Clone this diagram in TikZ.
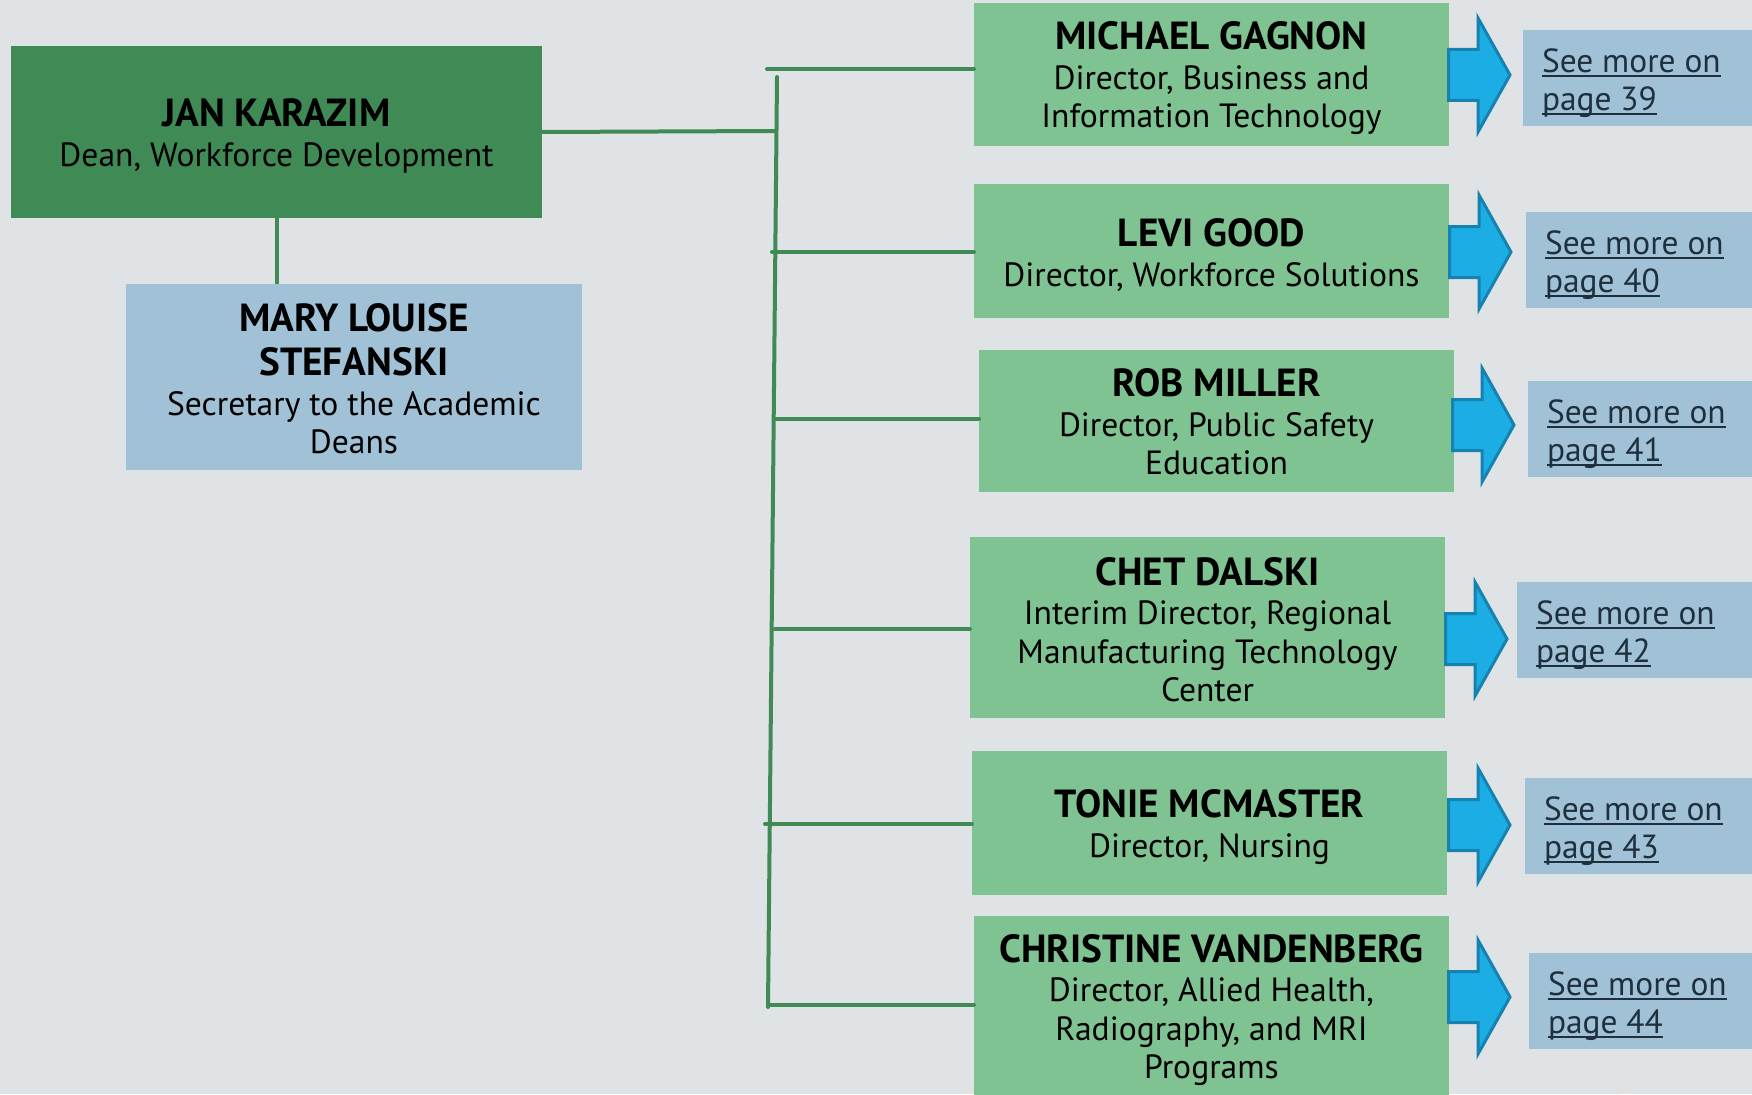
\documentclass[tikz,border=0pt]{standalone}
\usepackage{fontspec}
\setmainfont{PT Sans}
\newsavebox{\ulbox}
\newcommand{\myul}[1]{\sbox{\ulbox}{#1}\rlap{\rule[-4.5pt]{\wd\ulbox}{1.8pt}}\usebox{\ulbox}}
\definecolor{bgc}{RGB}{223,227,230}
\definecolor{dkgreen}{RGB}{63,138,85}
\definecolor{ltgreen}{RGB}{127,195,146}
\definecolor{ltblue}{RGB}{161,193,214}
\definecolor{arrfill}{RGB}{28,173,228}
\definecolor{arrdraw}{RGB}{21,130,175}
\definecolor{linktext}{RGB}{30,48,62}
\newcommand{\pname}[1]{{\fontsize{39.2}{40}\selectfont\bfseries #1}}
\begin{document}
\begin{tikzpicture}[x=1pt,y=-1pt,
  every node/.style={inner sep=0pt, outer sep=0pt},
  deanbox/.style={fill=dkgreen, anchor=north west, minimum width=531pt, minimum height=172pt},
  secbox/.style={fill=ltblue, anchor=north west, minimum width=456pt, minimum height=186pt},
  dirbox/.style={fill=ltgreen, anchor=north west, minimum width=475pt},
  boxtext/.style={align=center, yshift=-4pt, font=\fontsize{33.6}{38.5}\selectfont},
  pagebox/.style={fill=ltblue, anchor=north west, minimum width=260pt, minimum height=96pt},
  pagetext/.style={anchor=west, xshift=19pt, align=left, text=linktext, font=\fontsize{33.4}{38.5}\selectfont},
  conn/.style={draw=dkgreen, line width=4pt, line cap=round},
  arrowstyle/.style={fill=arrfill, draw=arrdraw, line width=3pt, line join=miter},
  barrow/.pic={\draw[arrowstyle] (1.5,-25.5) -- (31,-25.5) -- (31,-57) -- (63,0) -- (31,57) -- (31,25.5) -- (1.5,25.5) -- cycle;}
]
\useasboundingbox (0,0) rectangle (1752,1094);
\fill[bgc] (0,0) rectangle (1752,1094);
\draw[black!12, line width=1.5pt] (1683,1050) -- (1617,1094);

% dean and secretary
\node[deanbox] (jan) at (11,46) {};
\node[secbox] (mary) at (126,284) {};
\node[boxtext] (jant) at (jan.center) {\pname{JAN KARAZIM}\\[1pt]Dean, Workforce Development};
\node[boxtext, yshift=2.5pt] (maryt) at (mary.center) {\pname{MARY LOUISE}\\[6pt]\pname{STEFANSKI}\\[1pt]Secretary to the Academic\\Deans};
\draw[conn, line cap=butt] (jan.south) -- (jan.south |- mary.north);

% directors
\node[dirbox, minimum height=143pt] (m1) at (974,3) {};
\node[dirbox, minimum height=134pt] (m2) at (974,184) {};
\node[dirbox, minimum height=142pt] (m3) at (979,350) {};
\node[dirbox, minimum height=181pt] (m4) at (970,537) {};
\node[dirbox, minimum height=144pt] (m5) at (972,751) {};
\node[dirbox, minimum height=180pt] (m6) at (974,916) {};
\node[boxtext] (m1t) at (m1.center) {\pname{MICHAEL GAGNON}\\[1pt]Director, Business and\\Information Technology};
\node[boxtext] (m2t) at (m2.center) {\pname{LEVI GOOD}\\[1pt]Director, Workforce Solutions};
\node[boxtext, yshift=3pt] (m3t) at (m3.center) {\pname{ROB MILLER}\\[1pt]Director, Public Safety\\Education};
\node[boxtext, yshift=2pt] (m4t) at (m4.center) {\pname{CHET DALSKI}\\[1pt]Interim Director, Regional\\Manufacturing Technology\\Center};
\node[boxtext] (m5t) at (m5.center) {\pname{TONIE MCMASTER}\\[1pt]Director, Nursing};
\node[boxtext] (m6t) at (m6.center) {\pname{CHRISTINE VANDENBERG}\\[1pt]Director, Allied Health,\\Radiography, and MRI\\Programs};

% connectors
\coordinate (jt) at (775,131);
\coordinate (ttop) at (777,77);
\coordinate (tbot) at (768,1007);
\draw[conn] (jan.east) -- (jt);
\draw[conn] (ttop) -- (tbot);
\coordinate (b1) at (767,69);
\coordinate (b2) at (772,252);
\coordinate (b3) at (775,419);
\coordinate (b4) at (775,629);
\coordinate (b5) at (765,824);
\coordinate (b6) at (768,1005);
\draw[conn] (b1) -- (b1 -| m1.west);
\draw[conn] (b2) -- (b2 -| m2.west);
\draw[conn] (b3) -- (b3 -| m3.west);
\draw[conn] (b4) -- (b4 -| m4.west);
\draw[conn] (b5) -- (b5 -| m5.west);
\draw[conn] (b6) -- (b6 -| m6.west);

% arrows
\pic at (1447,75) {barrow};
\pic at (1448,252) {barrow};
\pic at (1451,425) {barrow};
\pic at (1444,639) {barrow};
\pic at (1447,825) {barrow};
\pic at (1447,997) {barrow};

% page boxes
\node[pagebox] (p1) at (1523,30) {};
\node[pagebox] (p2) at (1526,212) {};
\node[pagebox] (p3) at (1528,381) {};
\node[pagebox] (p4) at (1517,582) {};
\node[pagebox] (p5) at (1525,778) {};
\node[pagebox] (p6) at (1529,953) {};
\node[pagetext, yshift=-5pt] (t1) at (p1.west) {\myul{See more on}\\\myul{page 39}};
\node[pagetext, yshift=-5pt] (t2) at (p2.west) {\myul{See more on}\\\myul{page 40}};
\node[pagetext, yshift=-5pt] (t3) at (p3.west) {\myul{See more on}\\\myul{page 41}};
\node[pagetext, yshift=-5pt] (t4) at (p4.west) {\myul{See more on}\\\myul{page 42}};
\node[pagetext, yshift=-5pt] (t5) at (p5.west) {\myul{See more on}\\\myul{page 43}};
\node[pagetext, yshift=-5pt] (t6) at (p6.west) {\myul{See more on}\\\myul{page 44}};
\end{tikzpicture}
\end{document}
